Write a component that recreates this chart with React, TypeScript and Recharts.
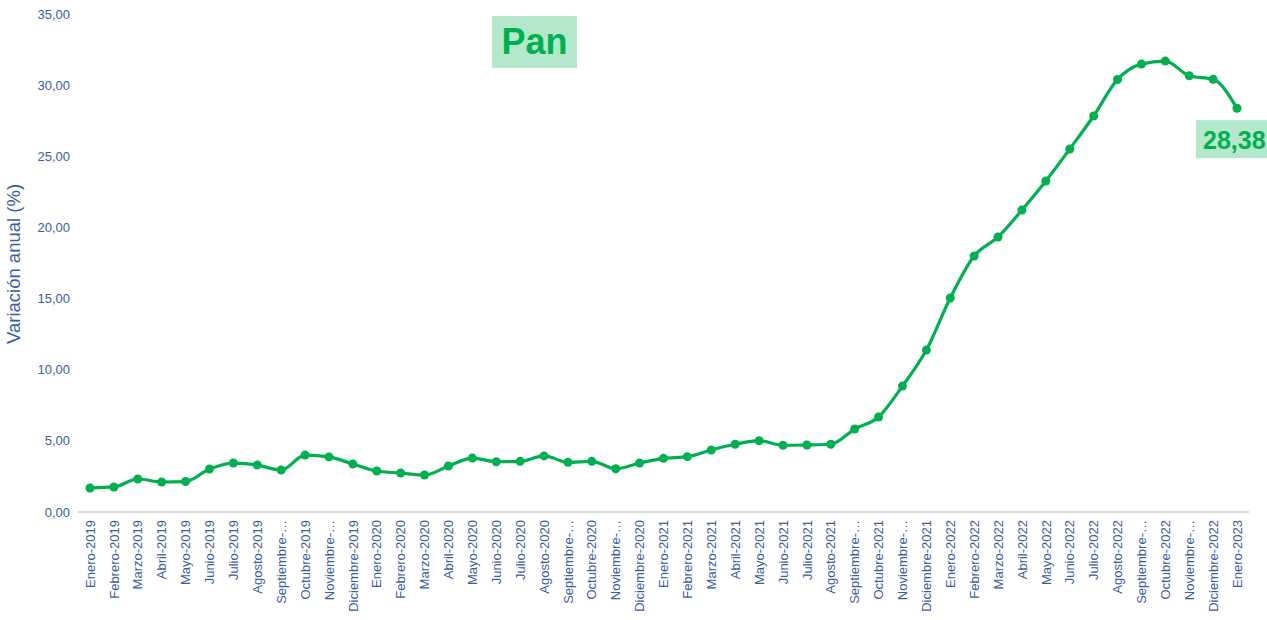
import React from 'react';
import { LineChart, Line, XAxis, YAxis, LabelList } from 'recharts';

const months = ['Enero', 'Febrero', 'Marzo', 'Abril', 'Mayo', 'Junio', 'Julio', 'Agosto', 'Septiembre', 'Octubre', 'Noviembre', 'Diciembre'];
const years = ['2019', '2020', '2021', '2022'];
const categories: string[] = [
  ...years.flatMap((y) => months.map((m) => `${m}-${y}`)),
  'Enero-2023',
];

const values: number[] = [
  1.69, 1.76, 2.32, 2.11, 2.14, 3.02, 3.44, 3.3, 2.95, 4.0, 3.87, 3.37,
  2.88, 2.74, 2.6, 3.23, 3.79, 3.53, 3.56, 3.94, 3.49, 3.56, 3.04, 3.44,
  3.77, 3.89, 4.36, 4.76, 5.01, 4.69, 4.71, 4.76, 5.83, 6.68, 8.85, 11.38,
  15.04, 17.99, 19.33, 21.22, 23.26, 25.51, 27.83, 30.4, 31.48, 31.69, 30.66, 30.41,
  28.38,
];

const yTicks: number[] = [0, 5, 10, 15, 20, 25, 30, 35];

const truncatedMonths: string[] = ['Septiembre', 'Noviembre'];

const data = categories.map((c, i) => ({ mes: c, valor: values[i] }));

const GREEN = '#00B050';
const LIGHT = '#B3E8CA';
const AXIS_BLUE = '#3A5C9C';
const FONT = '"Liberation Sans", Arial, sans-serif';

const fmt = (v: number) => v.toFixed(2).replace('.', ',');

const XTick = (props: any) => {
  const { x, y, payload } = props;
  const full: string = payload.value;
  const month = full.split('-')[0];
  const text = truncatedMonths.includes(month) ? month + '-…' : full;
  return (
    <text
      x={x}
      y={y}
      transform={`rotate(-90, ${x}, ${y})`}
      textAnchor="end"
      dy="0.36em"
      fontSize={13}
      fill={AXIS_BLUE}
      fontFamily={FONT}
    >
      {text}
    </text>
  );
};

const LastLabel = (props: any) => {
  const { x, y, index, value } = props;
  if (index !== values.length - 1) return null;
  return (
    <g>
      <rect x={x - 41} y={y + 12} width={90} height={38} fill={LIGHT} />
      <text x={x - 34} y={y + 41} fontSize={25} fontWeight="bold" fill={GREEN} fontFamily={FONT}>
        {fmt(value)}
      </text>
    </g>
  );
};

export default function App() {
  return (
    <div style={{ position: 'absolute', left: 0, top: 0, width: 1267, height: 620, background: '#fff', fontFamily: FONT }}>
      <LineChart
        width={1267}
        height={620}
        data={data}
        margin={{ top: 14, right: 18, left: 0, bottom: 0 }}
      >
        <XAxis
          dataKey="mes"
          interval={0}
          height={108}
          padding={{ left: 12, right: 12 }}
          tick={<XTick />}
          tickLine={false}
          axisLine={{ stroke: '#D9D9D9', strokeWidth: 2 }}
        />
        <YAxis
          width={78}
          domain={[0, 35]}
          ticks={yTicks}
          tickFormatter={fmt}
          tickLine={false}
          axisLine={false}
          tick={{ fontSize: 13, fill: AXIS_BLUE, fontFamily: FONT }}
          label={{
            content: (p: any) => {
              const vb = p.viewBox || { x: 0, y: 14, width: 78, height: 498 };
              const cy = vb.y + vb.height / 2 + 1;
              return (
                <text
                  x={13}
                  y={cy}
                  transform={`rotate(-90, 13, ${cy})`}
                  textAnchor="middle"
                  dy="0.36em"
                  fontSize={18.5}
                  fill={AXIS_BLUE}
                  fontFamily={FONT}
                >
                  Variación anual (%)
                </text>
              );
            },
          }}
        />
        <Line
          type="monotone"
          dataKey="valor"
          stroke={GREEN}
          strokeWidth={3.2}
          dot={{ r: 4.5, fill: GREEN, stroke: GREEN, strokeWidth: 0 }}
          activeDot={false}
          isAnimationActive={false}
        >
          <LabelList dataKey="valor" content={<LastLabel />} />
        </Line>
      </LineChart>
      <div
        style={{
          position: 'absolute',
          left: 492,
          top: 16,
          width: 85,
          height: 52,
          background: LIGHT,
          color: GREEN,
          fontSize: 36,
          fontWeight: 'bold',
          fontFamily: FONT,
          display: 'flex',
          alignItems: 'center',
          justifyContent: 'center',
        }}
      >
        Pan
      </div>
    </div>
  );
}
